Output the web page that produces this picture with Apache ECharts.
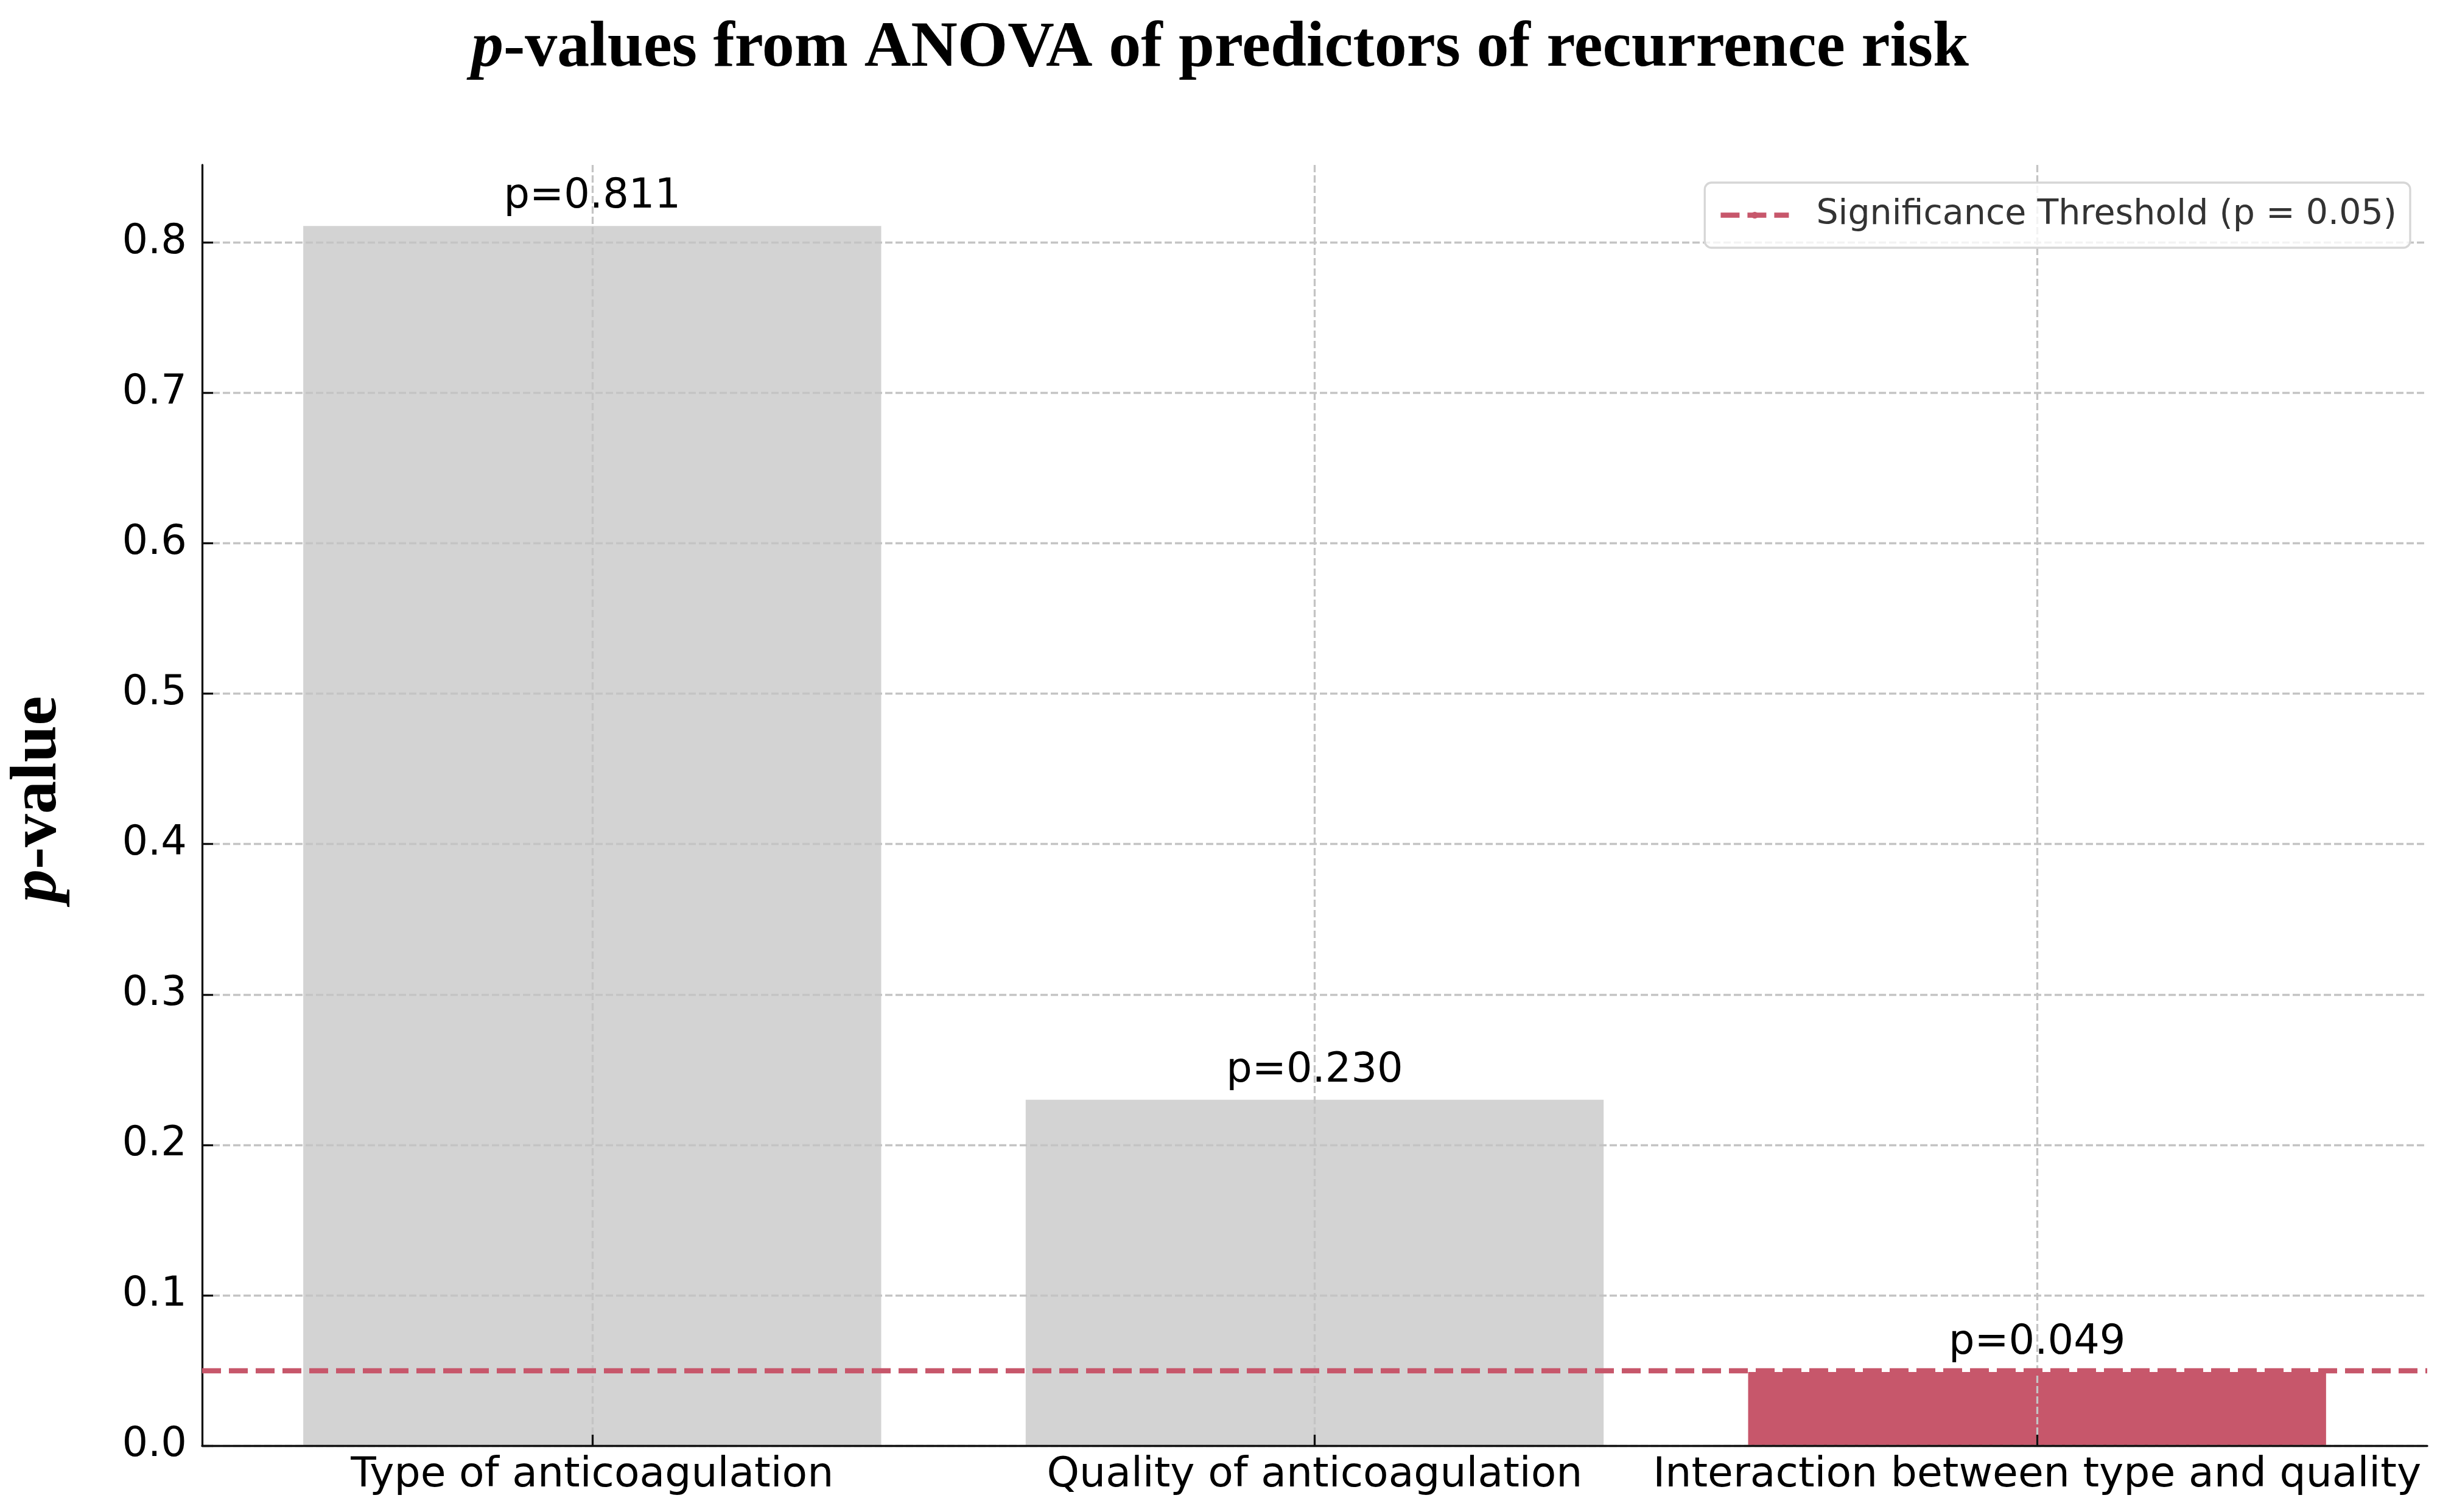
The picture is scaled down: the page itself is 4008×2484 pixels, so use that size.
<!DOCTYPE html>
<html>
<head>
<meta charset="utf-8">
<script src="https://cdn.jsdelivr.net/npm/echarts@6/dist/echarts.min.js"></script>
<style>
  html, body { margin: 0; padding: 0; background: #ffffff; }
  #chart { width: 4008px; height: 2484px; }
</style>
</head>
<body>
<div id="chart"></div>
<script>
// ---- data ----
const categories = ['Type of anticoagulation', 'Quality of anticoagulation', 'Interaction between type and quality'];
const pValues = [0.811, 0.230, 0.049];
const threshold = 0.05;
const yTicks = [0.0, 0.1, 0.2, 0.3, 0.4, 0.5, 0.6, 0.7, 0.8];
const xTicks = [0, 1, 2];
const legendName = 'Significance Threshold (p = 0.05)';

// ---- styles ----
const RED = '#c7576b';
const GRAY = '#d3d3d3';
const GRID = '#c4c4c4';
const SANS = 'DejaVu Sans';
const SERIF = 'Liberation Serif';

const chart = echarts.init(document.getElementById('chart'), null, { renderer: 'canvas', width: 4008, height: 2484 });

const barData = pValues.map((v, i) => ({
  value: [xTicks[i], v],
  itemStyle: { color: v < threshold ? RED : GRAY }
}));

const option = {
  animation: false,
  backgroundColor: '#ffffff',
  title: {
    text: '{i|p}{b|-values from ANOVA of predictors of recurrence risk}',
    left: 'center',
    top: 28,
    padding: 0,
    textStyle: {
      rich: {
        i: { fontFamily: SERIF, fontStyle: 'italic', fontWeight: 'bold', fontSize: 106, color: '#000' },
        b: { fontFamily: SERIF, fontWeight: 'bold', fontSize: 106, color: '#000' }
      }
    }
  },
  legend: {
    data: [{ name: legendName }],
    right: 49,
    top: 300,
    orient: 'vertical',
    padding: [21, 22, 21, 22],
    itemWidth: 112,
    itemHeight: 14,
    backgroundColor: 'rgba(255,255,255,0.8)',
    borderColor: '#d6d6d6',
    borderWidth: 3.3,
    borderRadius: 11,
    z: 10,
    lineStyle: { width: 8.3, type: [31, 13], color: RED },
    textStyle: { fontFamily: SANS, fontSize: 57, color: '#333', lineHeight: 65, padding: [0, 0, 0, 40] }
  },
  grid: { left: 330, right: 21, top: 271, bottom: 109, containLabel: false },
  xAxis: {
    type: 'value',
    min: -0.54,
    max: 2.54,
    z: 3,
    axisLine: { show: true, onZero: false, lineStyle: { color: '#111', width: 3.3 } },
    axisTick: { show: true, inside: true, length: 18, customValues: xTicks, lineStyle: { color: '#111', width: 3.3 } },
    axisLabel: {
      show: true,
      customValues: xTicks,
      margin: 15,
      fontFamily: SANS,
      fontSize: 68,
      color: '#000',
      formatter: v => categories[Math.round(v)]
    },
    splitLine: { show: true, lineStyle: { color: GRID, width: 3.3, type: [12, 5] } }
  },
  yAxis: {
    type: 'value',
    min: 0,
    max: 0.85155,
    z: 3,
    name: '{i|p}{b|-value}',
    nameLocation: 'middle',
    nameRotate: 90,
    nameGap: 215,
    nameTextStyle: {
      padding: [0, 0, 0, 20],
      rich: {
        i: { fontFamily: SERIF, fontStyle: 'italic', fontWeight: 'bold', fontSize: 109, color: '#000' },
        b: { fontFamily: SERIF, fontWeight: 'bold', fontSize: 109, color: '#000' }
      }
    },
    axisLine: { show: true, onZero: false, lineStyle: { color: '#111', width: 3.3 } },
    axisTick: { show: true, inside: true, length: 18, customValues: yTicks, lineStyle: { color: '#111', width: 3.3 } },
    axisLabel: {
      show: true,
      customValues: yTicks,
      margin: 25,
      fontFamily: SANS,
      fontSize: 67,
      color: '#000',
      formatter: v => v.toFixed(1)
    },
    splitLine: { show: true, lineStyle: { color: GRID, width: 3.3, type: [12, 5] } }
  },
  series: [
    {
      type: 'bar',
      z: 2,
      barWidth: '80%',
      data: barData,
      label: {
        show: true,
        position: 'top',
        distance: 14,
        fontFamily: SANS,
        fontSize: 67,
        color: '#000',
        formatter: p => 'p=' + p.value[1].toFixed(3)
      }
    },
    {
      type: 'line',
      name: legendName,
      z: 5,
      data: [],
      symbol: 'none',
      itemStyle: { color: RED },
      lineStyle: { color: RED, width: 8.3, type: [31, 13] },
      markLine: {
        silent: true,
        symbol: ['none', 'none'],
        label: { show: false },
        lineStyle: { color: RED, width: 8.3, type: [31, 13] },
        emphasis: { disabled: true },
        data: [{ yAxis: threshold }]
      }
    }
  ]
};

chart.setOption(option);
</script>
</body>
</html>
